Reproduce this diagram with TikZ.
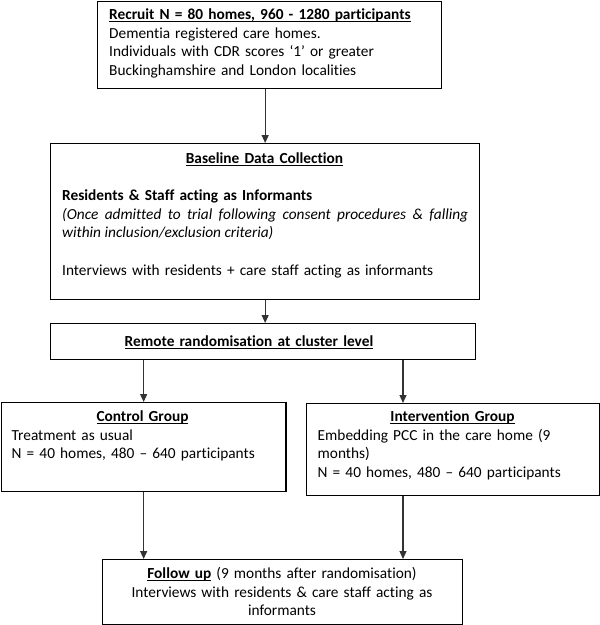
\documentclass[tikz,border=0pt]{standalone}
\usepackage{fontspec}
\setmainfont{Carlito}[Ligatures=NoCommon]
\usetikzlibrary{arrows.meta}
\newcommand\myul[1]{\setbox0\hbox{#1}\rlap{\rule[-2.8pt]{\wd0}{0.9pt}}\box0{}}
\begin{document}
\begin{tikzpicture}[x=1pt,y=-1pt,
  every node/.style={font=\fontsize{15.35pt}{18.7pt}\selectfont},
  box/.style={draw=black, line width=1.3pt, inner sep=0pt, anchor=north west},
  txt/.style={inner sep=0pt, anchor=base west, align=left},
  ctxt/.style={inner sep=0pt, anchor=base, align=center},
  arr/.style={draw=black!80, line width=1.1pt, -{Triangle[width=7pt,length=8pt]}}]
\useasboundingbox (0,0) rectangle (600,625);

% boxes
\node[box, minimum width=344pt, minimum height=87pt] (recruit) at (97,1) {};
\node[box, minimum width=429pt, minimum height=156pt] (baseline) at (50,143) {};
\node[box, minimum width=425pt, minimum height=36pt] (remote) at (50,323) {};
\node[box, minimum width=284.4pt, minimum height=89pt] (control) at (0.8,402) {};
\node[box, minimum width=292.6pt, minimum height=92pt] (interv) at (306,403) {};
\node[box, minimum width=360pt, minimum height=65pt] (follow) at (102,559) {};

% texts
\node[txt, text width=330pt] (recruitt) at (109,19.5)
  {\myul{\textbf{Recruit N = 80 homes, 960 - 1280 participants}}\\
   Dementia registered care homes.\\
   Individuals with CDR scores ‘1’ or greater\\
   Buckinghamshire and London localities};

\node[ctxt, text width=406pt] (baset1) at (264.5,163) {\myul{\textbf{Baseline Data Collection}}};
\node[txt, text width=406pt] (baset2) at (62,200) {\textbf{Residents \& Staff acting as Informants}};
\node[txt, text width=406pt, align=justify] (baset3) at (62,219)
  {\textit{(Once admitted to trial following consent procedures \& falling\linebreak within inclusion/exclusion criteria)}};
\node[txt, text width=406pt] (baset4) at (62,275) {Interviews with residents + care staff acting as informants};

\node[ctxt, text width=400pt] (remotet) at (249,346) {\myul{\textbf{Remote randomisation at cluster level}}};

\node[ctxt, text width=270pt] (controlt1) at (142.5,421.5) {\myul{\textbf{Control Group}}};
\node[txt, text width=270pt] (controlt2) at (11.5,440.2)
  {Treatment as usual\\ N = 40 homes, 480 – 640 participants};

\node[ctxt, text width=280pt] (intervt1) at (452.5,421.5) {\myul{\textbf{Intervention Group}}};
\node[txt, text width=278pt] (intervt2) at (317.5,440.2)
  {Embedding PCC in the care home (9\\ months)\\ N = 40 homes, 480 – 640 participants};

\node[ctxt, text width=350pt] (followt) at (282,578.5)
  {\myul{\textbf{Follow up}} (9 months after randomisation)\\
   Interviews with residents \& care staff acting as\\ informants};

% connectors
\coordinate (rx) at (403,0);
\draw[arr] (recruit.south -| baseline.north) -- (baseline.north);
\draw[arr] (baseline.south) -- (baseline.south |- remote.north);
\draw[arr] (remote.south -| control.north) -- (control.north);
\draw[arr] (remote.south -| rx) -- (interv.north -| rx);
\draw[arr] (control.south) -- (control.south |- follow.north);
\draw[arr] (interv.south -| rx) -- (follow.north -| rx);
\end{tikzpicture}
\end{document}
